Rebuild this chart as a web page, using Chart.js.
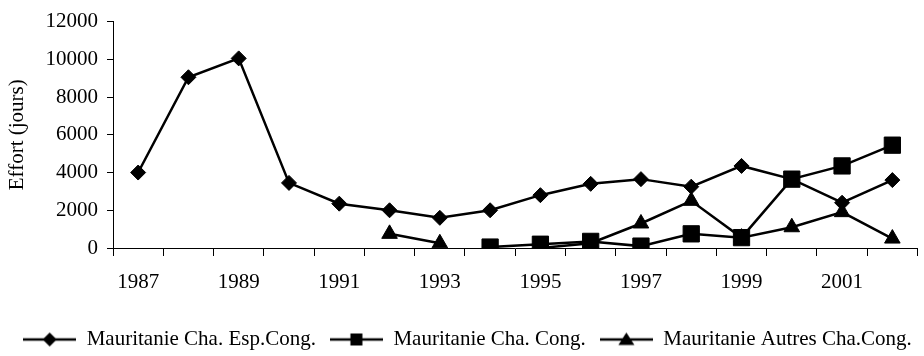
<!DOCTYPE html>
<html>
<head>
<meta charset="utf-8">
<script src="https://cdn.jsdelivr.net/npm/chart.js@4/dist/chart.umd.min.js"></script>
<style>
  html, body { margin: 0; padding: 0; background: #fff; overflow: hidden; }
  #wrap { position: relative; width: 930px; height: 360px; }
</style>
</head>
<body>
<div id="wrap"><canvas id="effortChart"></canvas></div>
<script>
// years on the x axis (only every other one is labelled)
const years = ['1987', '1988', '1989', '1990', '1991', '1992', '1993', '1994',
  '1995', '1996', '1997', '1998', '1999', '2000', '2001', '2002'];

// effort in days
const espCong = [4000, 9050, 10050, 3450, 2350, 2000, 1600, 2000, 2800, 3400, 3650, 3250, 4350, 3650, 2400, 3600];
const chaCong = [null, null, null, null, null, null, null, 50, 200, 350, 100, 750, 550, 3650, 4350, 5450];
const autresCong = [null, null, null, null, null, 750, 250, null, 0, 250, 1300, 2500, 550, 1100, 1900, 500];

const seriesNames = ['Mauritanie Cha. Esp.Cong.', 'Mauritanie Cha. Cong.', 'Mauritanie Autres Cha.Cong.'];
const yTicks = { min: 0, max: 12000, step: 2000 };

const FONT = "'Liberation Serif', 'Times New Roman', serif";

/**
 * builds a little canvas with a line and the marker in the middle, used as the legend symbol
 */
function legendSymbol (shape) {
  const c = document.createElement('canvas');
  c.width = 53;
  c.height = 20;
  const ctx = c.getContext('2d');
  ctx.strokeStyle = '#000';
  ctx.fillStyle = '#000';
  ctx.lineWidth = 2.5;
  ctx.beginPath();
  ctx.moveTo(0, 10);
  ctx.lineTo(53, 10);
  ctx.stroke();
  ctx.beginPath();
  if (shape === 'diamond') {
    ctx.moveTo(26.5, 3);
    ctx.lineTo(33.5, 10);
    ctx.lineTo(26.5, 17);
    ctx.lineTo(19.5, 10);
  } else if (shape === 'square') {
    ctx.rect(20.5, 4, 12, 12);
  } else {
    ctx.moveTo(26.5, 3);
    ctx.lineTo(34.5, 15.5);
    ctx.lineTo(18.5, 15.5);
  }
  ctx.closePath();
  ctx.fill();
  return c;
}

const symbols = [legendSymbol('diamond'), legendSymbol('square'), legendSymbol('triangle')];

const data = {
  labels: years,
  datasets: [{
    label: seriesNames[0],
    data: espCong,
    pointStyle: 'rectRot',
    pointRadius: 7.5,
    borderColor: '#000',
    backgroundColor: '#000',
    pointBorderWidth: 1,
    borderWidth: 2.5,
    order: 1
  }, {
    label: seriesNames[1],
    data: chaCong,
    pointStyle: 'rect',
    pointRadius: 11.5,
    borderColor: '#000',
    backgroundColor: '#000',
    pointBorderWidth: 1,
    borderWidth: 2.5,
    order: 2
  }, {
    label: seriesNames[2],
    data: autresCong,
    pointStyle: 'triangle',
    pointRadius: 9,
    borderColor: '#000',
    backgroundColor: '#000',
    pointBorderWidth: 1,
    borderWidth: 2.5,
    order: 3
  }]
};

const config = {
  type: 'line',
  data,
  options: {
    responsive: true,
    maintainAspectRatio: false,
    animation: false,
    spanGaps: false,
    elements: { line: { tension: 0 } },
    layout: { padding: { top: 17, left: 5, right: 0, bottom: 0 } },
    plugins: {
      tooltip: { enabled: false },
      legend: {
        position: 'bottom',
        labels: {
          usePointStyle: true,
          pointStyleWidth: 53,
          padding: 14,
          color: '#000',
          font: { family: FONT, size: 21 },
          generateLabels: (chart) => {
            const items = Chart.defaults.plugins.legend.labels.generateLabels(chart);
            items.forEach((item, i) => { item.pointStyle = symbols[i]; item.rotation = 0; });
            return items;
          }
        }
      }
    },
    scales: {
      x: {
        offset: true,
        grid: { drawOnChartArea: false, drawTicks: true, tickLength: 8, color: '#000', offset: true },
        border: { color: '#000', width: 1 },
        ticks: {
          autoSkip: false,
          maxRotation: 0,
          padding: 14,
          color: '#000',
          font: { family: FONT, size: 21 },
          callback: function (val, index) {
            return index % 2 === 0 ? this.getLabelForValue(val) : '';
          }
        },
        afterFit: (scale) => { scale.height = 67; }
      },
      y: {
        min: yTicks.min,
        max: yTicks.max,
        grid: { drawOnChartArea: false, drawTicks: true, tickLength: 6, color: '#000' },
        border: { color: '#000', width: 1 },
        ticks: {
          stepSize: yTicks.step,
          padding: 9,
          color: '#000',
          font: { family: FONT, size: 21 },
          callback: (val) => String(val)
        },
        title: {
          display: true,
          text: 'Effort (jours)',
          color: '#000',
          padding: { top: 0, bottom: 0 },
          font: { family: FONT, size: 21 }
        },
        afterFit: (scale) => { scale.width = 108; }
      }
    }
  }
};

const effortChart = new Chart(document.getElementById('effortChart'), config);
</script>
</body>
</html>
